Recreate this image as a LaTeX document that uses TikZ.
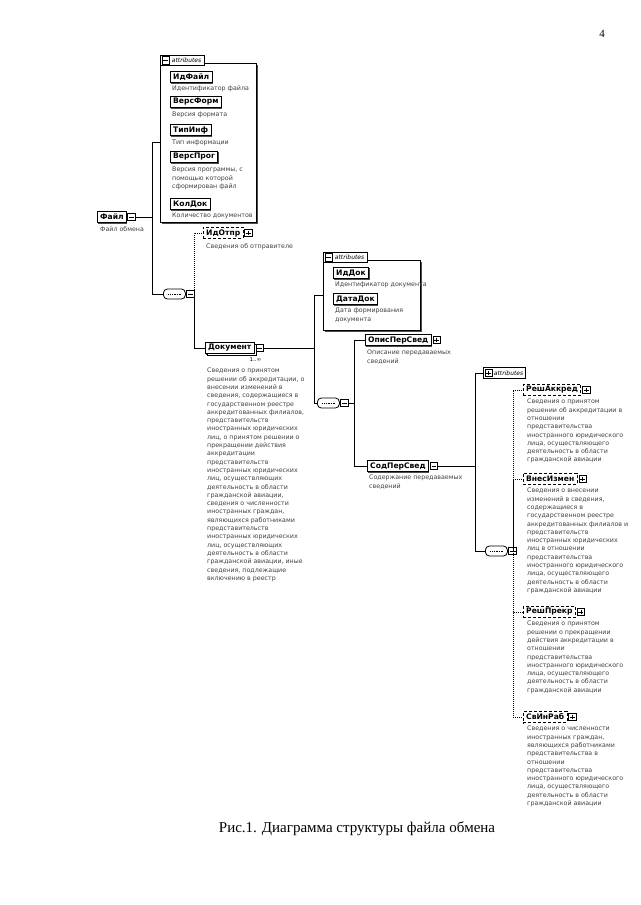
\documentclass[tikz,border=0pt]{standalone}
\usepackage{fontspec}
\setmainfont{Liberation Serif}
\newfontfamily\xsdfont{DejaVu Sans}
\usetikzlibrary{positioning,shadows}

\tikzset{
  elem/.style={draw,line width=0.8pt,fill=white,anchor=west,inner xsep=2.8pt,inner ysep=0pt,minimum height=11.5pt,
    font=\xsdfont\bfseries\fontsize{7.6}{8}\selectfont,
    drop shadow={shadow xshift=0.9pt,shadow yshift=-0.9pt,opacity=1,fill=black!70}},
  optelem/.style={draw,densely dashed,line width=0.8pt,fill=white,anchor=west,inner xsep=2.8pt,inner ysep=0pt,minimum height=11.5pt,
    font=\xsdfont\bfseries\fontsize{7.6}{8}\selectfont},
  desc/.style={anchor=north west,align=left,inner sep=0pt,text=black!75,font=\xsdfont\fontsize{6.3}{8.3}\selectfont},
  icminus/.style={draw,fill=white,line width=0.6pt,minimum size=7.5pt,inner sep=0pt,
    path picture={\draw[line width=0.6pt] ([xshift=1.4pt]path picture bounding box.west) -- ([xshift=-1.4pt]path picture bounding box.east);}},
  icplus/.style={draw,fill=white,line width=0.6pt,minimum size=7.5pt,inner sep=0pt,
    path picture={\draw[line width=0.6pt] ([xshift=1.4pt]path picture bounding box.west) -- ([xshift=-1.4pt]path picture bounding box.east)
      ([yshift=-1.4pt]path picture bounding box.north) -- ([yshift=1.4pt]path picture bounding box.south);}},
  seqsym/.style={draw,line width=0.8pt,fill=white,rounded corners=4pt,anchor=west,minimum width=22pt,minimum height=10pt,inner sep=0pt,
    path picture={\draw[densely dotted,line width=0.7pt] ([xshift=-6pt]path picture bounding box.center) -- ([xshift=6pt]path picture bounding box.center);}},
  attrbox/.style={draw,line width=0.8pt,fill=white,anchor=north west,inner sep=0pt,
    drop shadow={shadow xshift=1.2pt,shadow yshift=-1.2pt,opacity=1,fill=black!70}},
  attrtab/.style={draw,line width=0.7pt,fill=white,anchor=north west,inner xsep=1.5pt,inner ysep=0pt,minimum height=10.5pt,minimum width=44pt,
    align=right,font=\xsdfont\itshape\fontsize{6}{6.5}\selectfont},
  conn/.style={line width=1pt},
  optconn/.style={line width=1pt,densely dotted},
}

\begin{document}
\begin{tikzpicture}[x=1pt,y=-1pt]
  \useasboundingbox (0,0) rectangle (640,905);
  \node[font=\fontsize{11}{12}\selectfont] (pagenum) at (602,34) {4};

  % Файл and its attributes
  \node[attrbox,minimum width=96pt,minimum height=159pt] (fattr) at (160,63) {};
  \node[attrtab] (fattrtab) at (160,54.5) {\hspace*{8.5pt}attributes};
  \node[icminus,right=1.5pt of fattrtab.west] (fattric) {};
  \node[elem] (idfajl) at (170,77) {ИдФайл};
  \node[desc] (idfajld) at (172,86) {Идентификатор файла};
  \node[elem] (versform) at (170,102) {ВерсФорм};
  \node[desc] (versformd) at (172,112) {Версия формата};
  \node[elem] (tipinf) at (170,130) {ТипИнф};
  \node[desc] (tipinfd) at (172,140) {Тип информации};
  \node[elem] (versprog) at (170,157) {ВерсПрог};
  \node[desc] (versprogd) at (172,167) {Версия программы, с\\помощью которой\\сформирован файл};
  \node[elem] (koldok) at (170,204) {КолДок};
  \node[desc] (koldokd) at (172,213) {Количество документов};

  \node[elem] (fajl) at (97,217) {Файл};
  \node[icminus,right=0.5pt of fajl] (fajlic) {};
  \node[desc] (fajld) at (100,226) {Файл обмена};

  \node[seqsym] (seq1) at (163,294) {};
  \node[icminus,right=0.5pt of seq1] (seq1ic) {};
  \coordinate (bus1) at (152,217);
  \draw[conn] (fajlic) -- (bus1) |- (fattr.west);
  \draw[conn] (bus1) |- (seq1.west);

  % ИдОтпр, Документ
  \node[optelem] (idotpr) at (203,233) {ИдОтпр};
  \node[icplus,right=1pt of idotpr] (idotpric) {};
  \node[desc] (idotprd) at (206,243) {Сведения об отправителе};

  \node[elem,copy shadow={shadow xshift=1.8pt,shadow yshift=-1.8pt}] (dokument) at (205,348) {Документ};
  \node[icminus,right=1pt of dokument] (dokumentic) {};
  \node[font=\xsdfont\fontsize{5.5}{6}\selectfont,below=2pt of dokumentic.south west] (dokumentm) {1..∞};
  \node[desc] (dokumentd) at (207,368) {Сведения о принятом\\решении об аккредитации, о\\внесении изменений в\\сведения, содержащиеся в\\государственном реестре\\аккредитованных филиалов,\\представительств\\иностранных юридических\\лиц, о принятом решении о\\прекращении действия\\аккредитации\\представительств\\иностранных юридических\\лиц, осуществляющих\\деятельность в области\\гражданской авиации,\\сведения о численности\\иностранных граждан,\\являющихся работниками\\представительств\\иностранных юридических\\лиц, осуществляющих\\деятельность в области\\гражданской авиации, иные\\сведения, подлежащие\\включению в реестр};

  \coordinate (bus2) at (194,294);
  \draw[conn] (seq1ic) -- (bus2) |- (dokument.west);
  \draw[optconn] (bus2) |- (idotpr.west);

  % attributes of Документ
  \node[attrbox,minimum width=97pt,minimum height=70pt] (dattr) at (323,260) {};
  \node[attrtab] (dattrtab) at (323,251.5) {\hspace*{8.5pt}attributes};
  \node[icminus,right=1.5pt of dattrtab.west] (dattric) {};
  \node[elem] (iddok) at (333,273) {ИдДок};
  \node[desc] (iddokd) at (335,282) {Идентификатор документа};
  \node[elem] (datadok) at (333,299) {ДатаДок};
  \node[desc] (datadokd) at (335,308) {Дата формирования\\документа};

  \node[seqsym] (seq2) at (317,403) {};
  \node[icminus,right=0.5pt of seq2] (seq2ic) {};
  \coordinate (bus3) at (314,348);
  \draw[conn] (dokumentic) -- (bus3) |- (dattr.west);
  \draw[conn] (bus3) |- (seq2.west);

  % ОписПерСвед, СодПерСвед
  \node[elem] (opisper) at (365,340) {ОписПерСвед};
  \node[icplus,right=1pt of opisper] (opisperic) {};
  \node[desc] (opisperd) at (367,350) {Описание передаваемых\\сведений};
  \node[elem] (sodper) at (367,466) {СодПерСвед};
  \node[icminus,right=1pt of sodper] (sodperic) {};
  \node[desc] (sodperd) at (369,475) {Содержание передаваемых\\сведений};

  \coordinate (bus4) at (354,403);
  \draw[conn] (seq2ic) -- (bus4) |- (opisper.west);
  \draw[conn] (bus4) |- (sodper.west);

  % content of СодПерСвед
  \node[attrtab,anchor=west,minimum height=11pt,minimum width=42pt] (sattr) at (483,373) {\hspace*{8.5pt}attributes};
  \node[icplus,right=1.5pt of sattr.west] (sattric) {};
  \node[seqsym] (seq3) at (485,551) {};
  \node[icminus,right=0.5pt of seq3] (seq3ic) {};
  \coordinate (bus5) at (475,466);
  \draw[conn] (sodperic) -- (bus5) |- (sattr.west);
  \draw[conn] (bus5) |- (seq3.west);

  \node[optelem] (reshakkr) at (523,390) {РешАккред};
  \node[icplus,right=1pt of reshakkr] (reshakkric) {};
  \node[desc] (reshakkrd) at (527,399) {Сведения о принятом\\решении об аккредитации в\\отношении\\представительства\\иностранного юридического\\лица, осуществляющего\\деятельность в области\\гражданской авиации};
  \node[optelem] (vnesizm) at (523,479) {ВнесИзмен};
  \node[icplus,right=1pt of vnesizm] (vnesizmic) {};
  \node[desc] (vnesizmd) at (527,488) {Сведения о внесении\\изменений в сведения,\\содержащиеся в\\государственном реестре\\аккредитованных филиалов и\\представительств\\иностранных юридических\\лиц в отношении\\представительства\\иностранного юридического\\лица, осуществляющего\\деятельность в области\\гражданской авиации};
  \node[optelem] (reshprekr) at (523,612) {РешПрекр};
  \node[icplus,right=1pt of reshprekr] (reshprekric) {};
  \node[desc] (reshprekrd) at (527,621) {Сведения о принятом\\решении о прекращении\\действия аккредитации в\\отношении\\представительства\\иностранного юридического\\лица, осуществляющего\\деятельность в области\\гражданской авиации};
  \node[optelem] (svinrab) at (523,717) {СвИнРаб};
  \node[icplus,right=1pt of svinrab] (svinrabic) {};
  \node[desc] (svinrabd) at (527,726) {Сведения о численности\\иностранных граждан,\\являющихся работниками\\представительства в\\отношении\\представительства\\иностранного юридического\\лица, осуществляющего\\деятельность в области\\гражданской авиации};

  \coordinate (bus6) at (513,551);
  \draw[optconn] (seq3ic) -- (bus6) |- (reshakkr.west);
  \draw[optconn] (bus6) |- (vnesizm.west);
  \draw[optconn] (bus6) |- (reshprekr.west);
  \draw[optconn] (bus6) |- (svinrab.west);

  \node[font=\fontsize{15}{16}\selectfont] (caption) at (357,829) {Рис.1. Диаграмма структуры файла обмена};
\end{tikzpicture}
\end{document}
